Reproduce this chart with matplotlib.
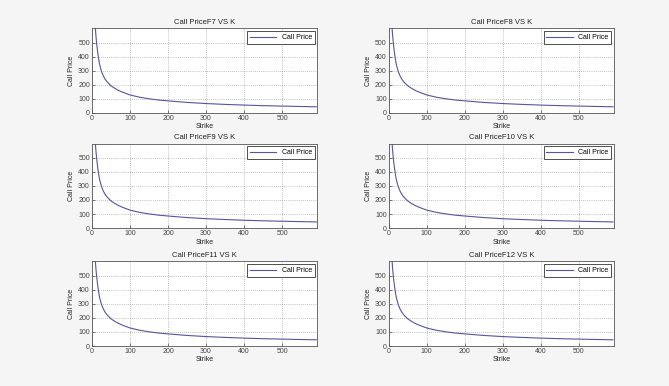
import matplotlib.pyplot as plt
from matplotlib import rcParams

rcParams['font.family'] = 'Liberation Sans'
rcParams['font.size'] = 5

titles = ['Call PriceF7 VS K', 'Call PriceF8 VS K', 'Call PriceF9 VS K',
          'Call PriceF10 VS K', 'Call PriceF11 VS K', 'Call PriceF12 VS K']

strike = [8, 10, 12, 15, 18, 20, 25, 30, 35, 40, 50, 60, 70, 80, 100, 125, 150,
          175, 200, 250, 300, 350, 400, 450, 500, 550, 590]
price = [640, 560, 500, 430, 375, 345, 295, 262, 238, 220, 193, 175, 160, 148,
         128, 112, 101, 92, 86, 75, 67, 61, 56, 52, 49, 46, 44]

lefts = [0.1375, 0.581]
bottoms = [0.7073, 0.409, 0.1036]

fig = plt.figure(figsize=[6.69, 3.86], dpi=100)
fig.patch.set_facecolor('#f5f5f5')

for i in range(6):
    r = i // 2
    c = i % 2
    ax = fig.add_axes([lefts[c], bottoms[r], 0.337, 0.219])
    ax.plot(strike, price, color='#55559a', lw=0.8, label='Call Price')
    ax.set_xlim(0, 593)
    ax.set_ylim(0, 600)
    ax.set_xticks([0, 100, 200, 300, 400, 500])
    ax.set_yticks([0, 100, 200, 300, 400, 500])
    ax.grid(True, linestyle=(0, (1, 1.5)), color='#aaaaaa', lw=0.6)
    ax.tick_params(direction='in', length=2, width=0.5, pad=1.5, colors='#444444')
    for s in ax.spines.values():
        s.set_linewidth(0.6)
        s.set_color('#555555')
    ax.set_title(titles[i], fontsize=5.5, pad=3, color='#222222')
    ax.set_xlabel('Strike', labelpad=1, color='#222222')
    ax.set_ylabel('Call Price', labelpad=2, color='#222222')
    leg = ax.legend(loc='upper right', fontsize=5, fancybox=False, framealpha=1,
                    handlelength=3.8, borderpad=0.4, borderaxespad=0.4)
    leg.get_frame().set_edgecolor('#333333')
    leg.get_frame().set_linewidth(0.6)

plt.savefig('out.png', dpi=100, facecolor=fig.get_facecolor())
